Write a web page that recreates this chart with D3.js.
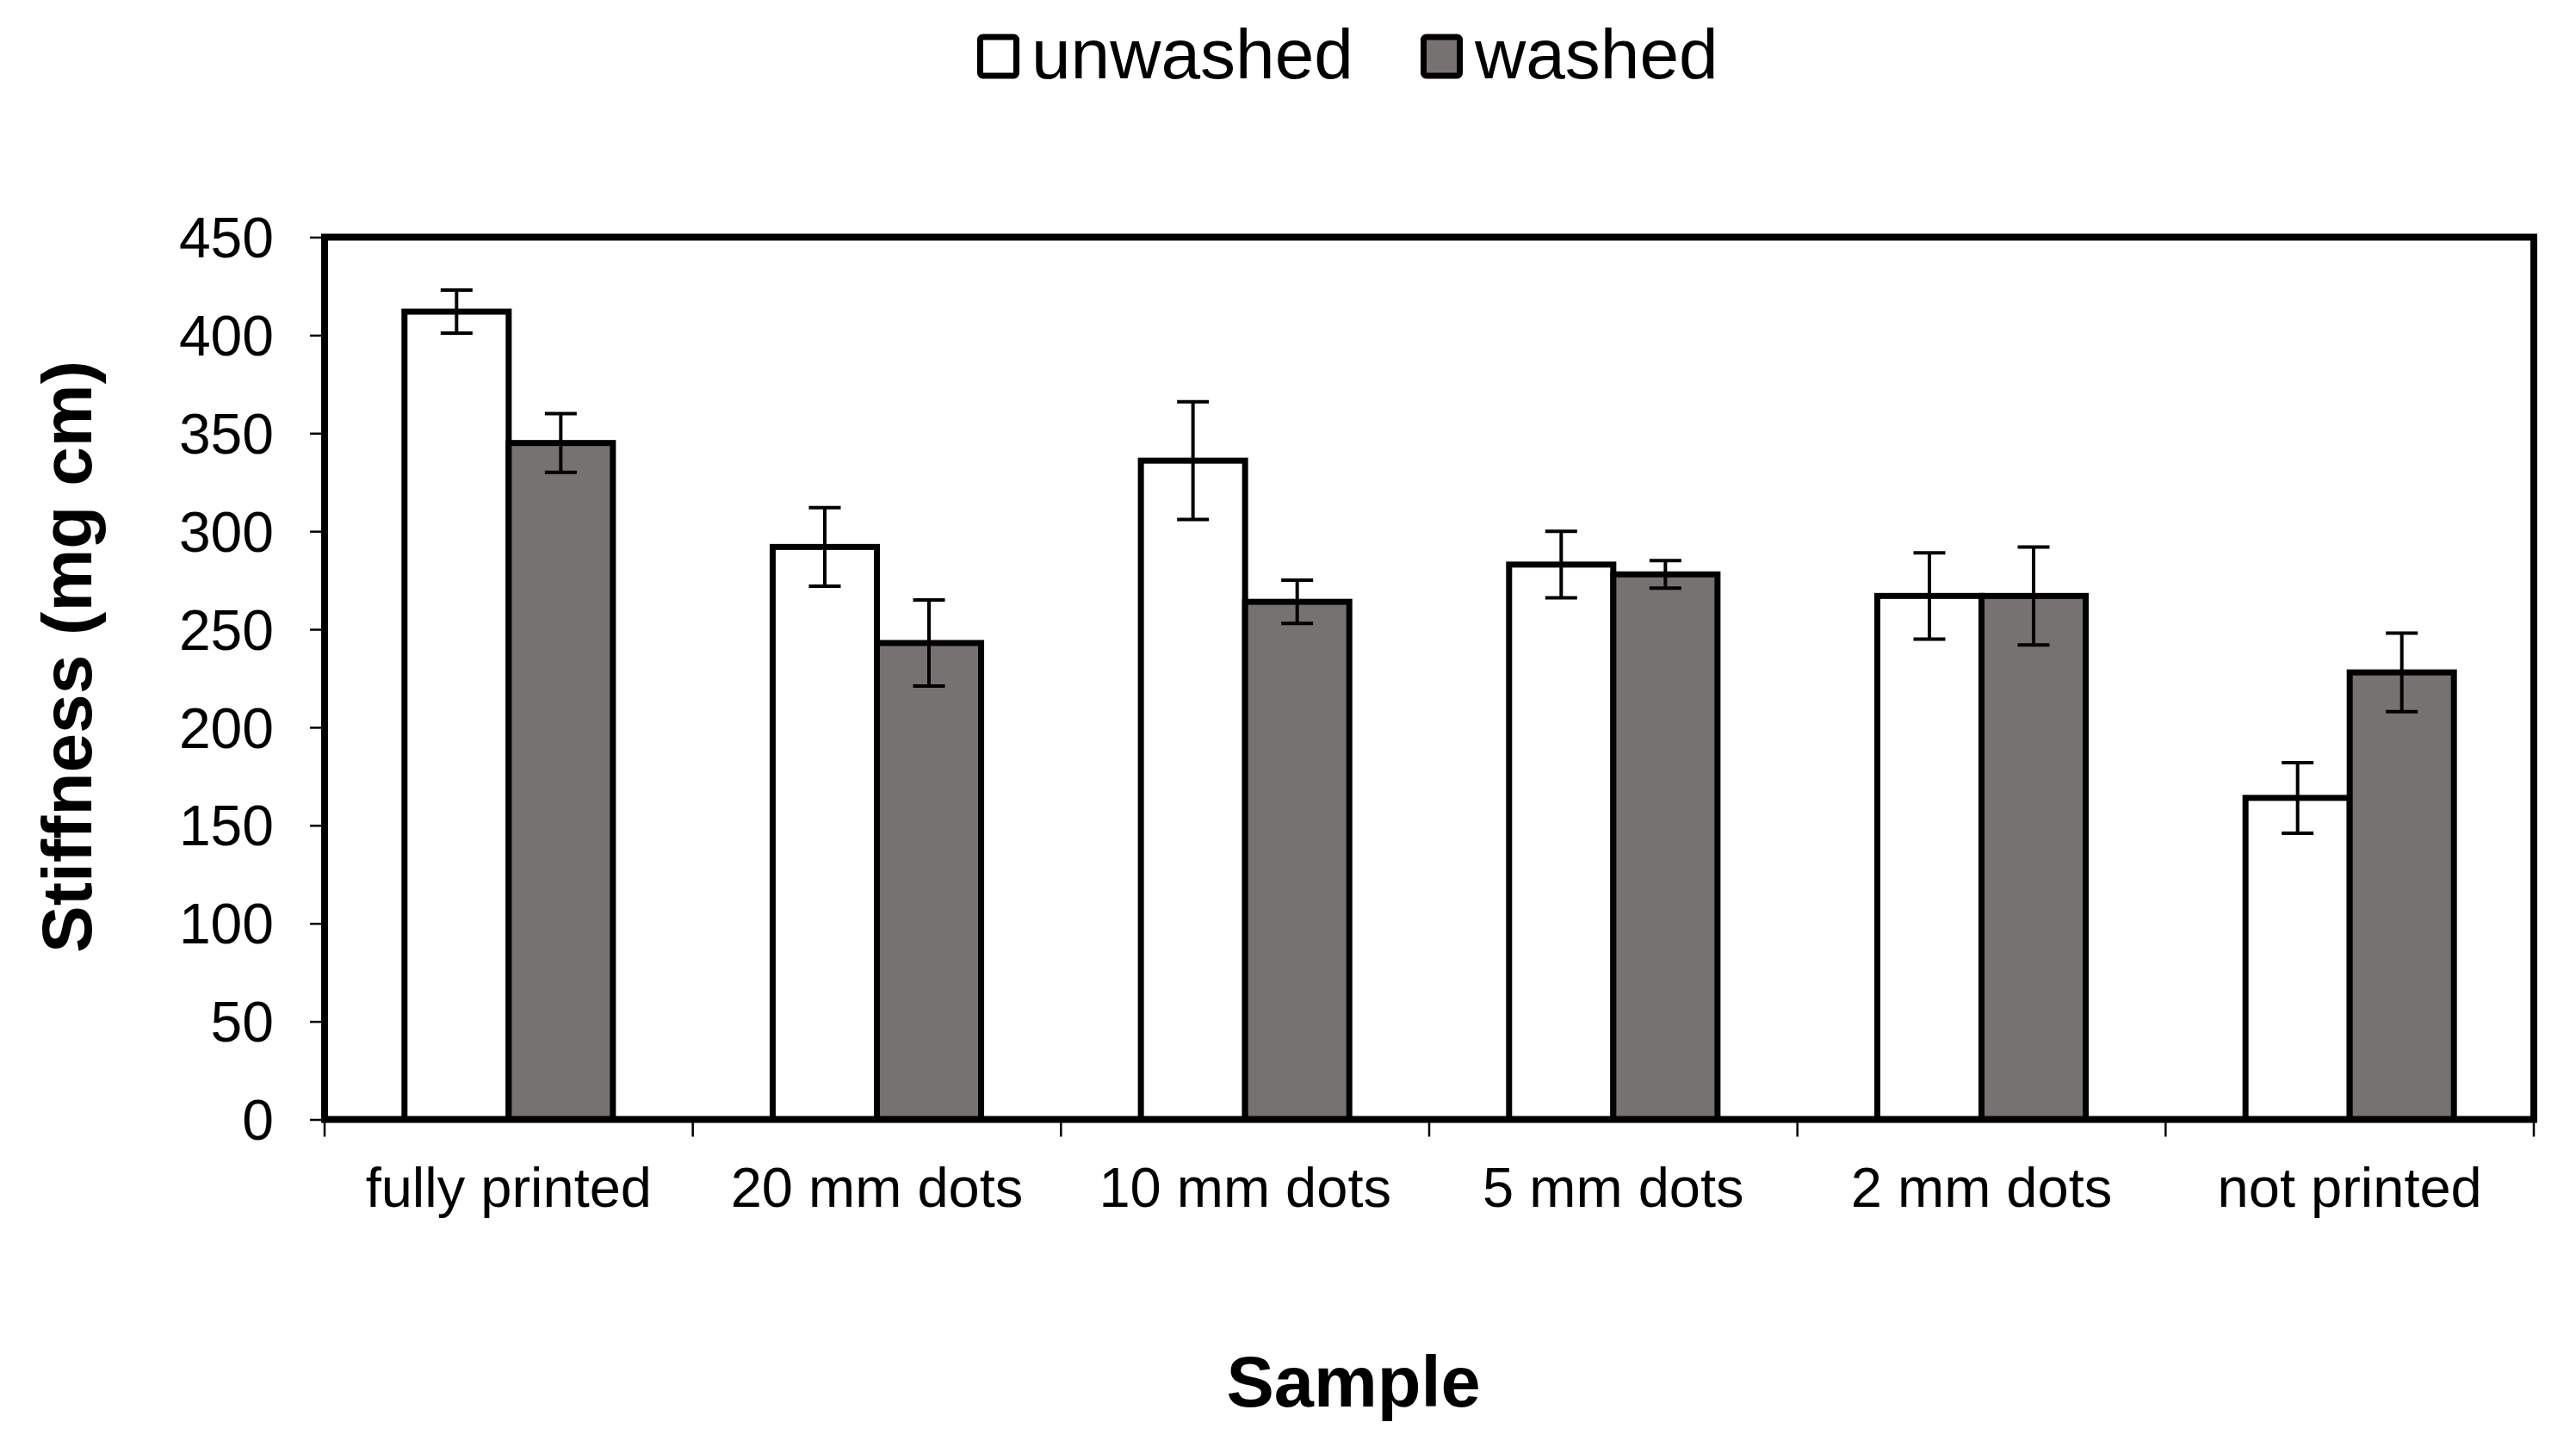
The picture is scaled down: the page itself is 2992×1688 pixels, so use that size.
<!DOCTYPE html>
<html>
<head>
<meta charset="utf-8">
<script src="https://cdn.jsdelivr.net/npm/d3@7"></script>
<style>
	body {
		margin: 0;
		padding: 0;
		background: #FFF;
	}
	text {
		font-family: "Liberation Sans", Arial, sans-serif;
		fill: #000;
	}
	.frame {
		fill: none;
		stroke: #000;
		stroke-width: 8;
	}
	.bar {
		stroke: #000;
		stroke-width: 7;
	}
	.err {
		stroke: #000;
		stroke-width: 4;
	}
	.tick line {
		stroke: #000;
		stroke-width: 2.5;
	}
</style>
</head>
<body>
<div id="content"></div>
<script>
// Data
var categories = ['fully printed', '20 mm dots', '10 mm dots', '5 mm dots', '2 mm dots', 'not printed'];
var series = ['unwashed', 'washed'];
var unwashed = [412, 292, 336, 283, 267, 164];
var unwashedErr = [11, 20, 30, 17, 22, 18];
var washed = [345, 243, 264, 278, 267, 228];
var washedErr = [15, 22, 11, 7, 25, 20];
var yTicks = [0, 50, 100, 150, 200, 250, 300, 350, 400, 450];
var colors = {unwashed: '#FFFFFF', washed: '#767271'};

var W = 2992, H = 1688;
var plotLeft = 377, plotRight = 2943, plotTop = 275.5, plotBottom = 1300.5;

var svg = d3.select('#content')
	.append('svg')
	.attr('width', W)
	.attr('height', H);

var x0 = d3.scaleBand()
	.domain(categories)
	.range([plotLeft, plotRight])
	.paddingInner(0.434)
	.paddingOuter(0.217);

var x1 = d3.scaleBand()
	.domain(series)
	.range([0, x0.bandwidth()]);

var y = d3.scaleLinear()
	.domain([0, 450])
	.range([plotBottom, plotTop]);

// Y axis ticks and labels
var yAxis = svg.append('g')
	.attr('transform', 'translate(' + plotLeft + ',0)')
	.call(d3.axisLeft(y).tickValues(yTicks).tickSize(17).tickPadding(0).tickFormat(d3.format('d')));
yAxis.select('.domain').remove();
yAxis.selectAll('text')
	.attr('x', -59)
	.attr('dy', '0.35em')
	.style('font-size', '66px')
	.style('font-family', '"Liberation Sans", Arial, sans-serif');

// X axis ticks at band boundaries
var step = x0.step();
var boundaries = d3.range(categories.length + 1).map(function(i) { return plotLeft + i * step; });
svg.append('g')
	.selectAll('line')
	.data(boundaries)
	.enter()
	.append('line')
	.attr('x1', function(d) { return d; })
	.attr('x2', function(d) { return d; })
	.attr('y1', plotBottom)
	.attr('y2', plotBottom + 20)
	.attr('stroke', '#000')
	.attr('stroke-width', 2.5);

// Category labels
svg.append('g')
	.selectAll('text')
	.data(categories)
	.enter()
	.append('text')
	.attr('x', function(d) { return x0(d) + x0.bandwidth() / 2; })
	.attr('y', 1402)
	.attr('text-anchor', 'middle')
	.style('font-size', '65px')
	.text(function(d) { return d; });

// Bars
var rows = categories.map(function(c, i) {
	return [
		{cat: c, key: 'unwashed', value: unwashed[i], err: unwashedErr[i]},
		{cat: c, key: 'washed', value: washed[i], err: washedErr[i]}
	];
});

var groups = svg.append('g')
	.selectAll('g')
	.data(rows)
	.enter()
	.append('g')
	.attr('transform', function(d) { return 'translate(' + x0(d[0].cat) + ',0)'; });

groups.selectAll('rect')
	.data(function(d) { return d; })
	.enter()
	.append('rect')
	.attr('class', 'bar')
	.attr('x', function(d) { return x1(d.key); })
	.attr('y', function(d) { return y(d.value); })
	.attr('width', x1.bandwidth())
	.attr('height', function(d) { return plotBottom - y(d.value); })
	.attr('fill', function(d) { return colors[d.key]; });

// Error bars
var cap = 18.5;
var cx = function(d) { return x1(d.key) + x1.bandwidth() / 2; };
var eb = groups.selectAll('g.eb')
	.data(function(d) { return d; })
	.enter()
	.append('g')
	.attr('class', 'eb');
eb.append('line')
	.attr('class', 'err')
	.attr('x1', cx)
	.attr('x2', cx)
	.attr('y1', function(d) { return y(d.value + d.err); })
	.attr('y2', function(d) { return y(d.value - d.err); });
eb.append('line')
	.attr('class', 'err')
	.attr('x1', function(d) { return cx(d) - cap; })
	.attr('x2', function(d) { return cx(d) + cap; })
	.attr('y1', function(d) { return y(d.value + d.err); })
	.attr('y2', function(d) { return y(d.value + d.err); });
eb.append('line')
	.attr('class', 'err')
	.attr('x1', function(d) { return cx(d) - cap; })
	.attr('x2', function(d) { return cx(d) + cap; })
	.attr('y1', function(d) { return y(d.value - d.err); })
	.attr('y2', function(d) { return y(d.value - d.err); });

// Plot frame
svg.append('rect')
	.attr('class', 'frame')
	.attr('x', plotLeft)
	.attr('y', plotTop)
	.attr('width', plotRight - plotLeft)
	.attr('height', plotBottom - plotTop);

// Axis titles
svg.append('text')
	.attr('transform', 'translate(106,763) rotate(-90)')
	.attr('text-anchor', 'middle')
	.style('font-size', '82px')
	.style('font-weight', 'bold')
	.text('Stiffness (mg cm)');

svg.append('text')
	.attr('x', 1572)
	.attr('y', 1634)
	.attr('text-anchor', 'middle')
	.style('font-size', '83px')
	.style('font-weight', 'bold')
	.text('Sample');

// Legend
var legendX = [1135, 1650];
var legend = svg.append('g')
	.selectAll('g')
	.data(series)
	.enter()
	.append('g')
	.attr('transform', function(d, i) { return 'translate(' + legendX[i] + ',0)'; });
legend.append('rect')
	.attr('x', 3.5)
	.attr('y', 43)
	.attr('width', 42)
	.attr('height', 45)
	.attr('rx', 3)
	.attr('fill', function(d) { return colors[d]; })
	.attr('stroke', '#000')
	.attr('stroke-width', 7);
legend.append('text')
	.attr('x', 63)
	.attr('y', 91)
	.style('font-size', '82px')
	.text(function(d) { return d; });
</script>
</body>
</html>
